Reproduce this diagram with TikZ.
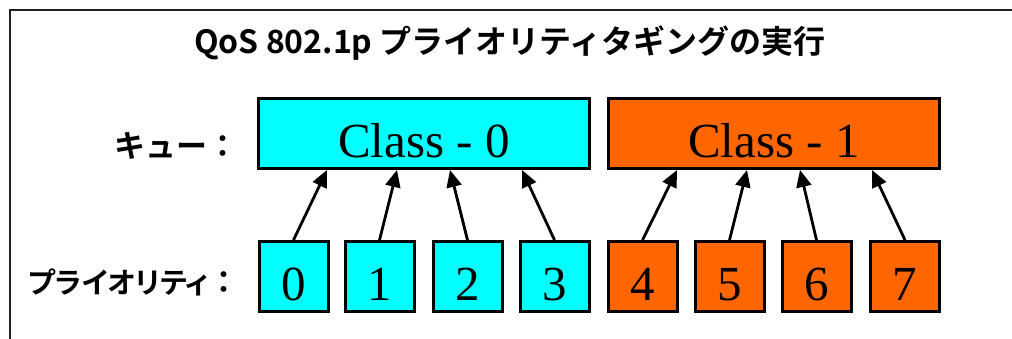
\documentclass[tikz,border=0pt]{standalone}
\usepackage{fontspec}
\usetikzlibrary{arrows.meta}
\setmainfont{Liberation Serif}
\newfontfamily\jpfont{Noto Sans CJK JP Bold}
\newfontfamily\jppalt[RawFeature=+palt]{Noto Sans CJK JP Bold}
\definecolor{qcyan}{HTML}{00FFFF}
\definecolor{qorange}{HTML}{FF6600}
\definecolor{framecol}{HTML}{231F20}
\begin{document}
\begin{tikzpicture}[x=1pt,y=-1pt,
  boxbase/.style={draw=black, line width=3pt, inner sep=0pt, text height=58.5pt, text depth=11.5pt, font=\fontsize{49}{49}\selectfont},
  clsbox/.style={boxbase, minimum width=331pt},
  digbox/.style={boxbase, minimum width=69pt},
  arr/.style={line width=2.8pt, -{Triangle[length=17pt,width=15pt]}},
  lbl/.style={inner sep=0pt, anchor=east},
]
\useasboundingbox (0,0) rectangle (1012,338);
\draw[line width=2pt, framecol] (1014,10) -- (10,10) -- (10,340);
\node[font=\jpfont\fontsize{32}{32}\selectfont, anchor=base] (title) at (510,53) {QoS 802.1p プライオリティタギングの実行};
\node[lbl, font=\jpfont\fontsize{31}{31}\selectfont] (qlabel) at (239,146) {キュー：};
\node[lbl] (plabel) at (240,282) {{\jppalt\fontsize{29}{29}\selectfont プライオリティ}{\jpfont\fontsize{31}{31}\selectfont ：}};
\node[clsbox, fill=qcyan] (c0) at (424,133.5) {Class - 0};
\node[clsbox, fill=qorange] (c1) at (774,133.5) {Class - 1};
\node[digbox, fill=qcyan] (p0) at (293.5,276.5) {0};
\node[digbox, fill=qcyan] (p1) at (379.5,276.5) {1};
\node[digbox, fill=qcyan] (p2) at (467.5,276.5) {2};
\node[digbox, fill=qcyan] (p3) at (554.5,276.5) {3};
\node[digbox, fill=qorange] (p4) at (642.5,276.5) {4};
\node[digbox, fill=qorange] (p5) at (729.5,276.5) {5};
\node[digbox, fill=qorange] (p6) at (816.5,276.5) {6};
\node[digbox, fill=qorange] (p7) at (905,276.5) {7};
\draw[arr] (p0.north) -- ([xshift=70pt]c0.south west);
\draw[arr] (p1.north) -- ([xshift=140pt]c0.south west);
\draw[arr] (p2.north) -- ([xshift=193pt]c0.south west);
\draw[arr] (p3.north) -- ([xshift=265pt]c0.south west);
\draw[arr] (p4.north) -- ([xshift=70pt]c1.south west);
\draw[arr] (p5.north) -- ([xshift=140pt]c1.south west);
\draw[arr] (p6.north) -- ([xshift=193pt]c1.south west);
\draw[arr] (p7.north) -- ([xshift=265pt]c1.south west);
\end{tikzpicture}
\end{document}
